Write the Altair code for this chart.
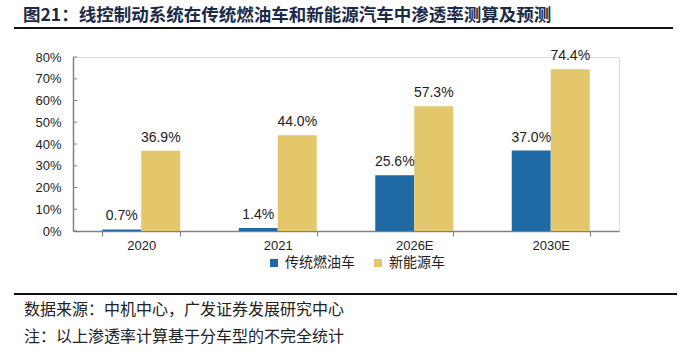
import altair as alt
import pandas as pd

categories = ["2020", "2021", "2026E", "2030E"]
series_names = ["传统燃油车", "新能源车"]
ice_values = [0.7, 1.4, 25.6, 37.0]
nev_values = [36.9, 44.0, 57.3, 74.4]
y_ticks = [0, 10, 20, 30, 40, 50, 60, 70, 80]
colors = ["#1f6aa5", "#e3c76a"]

title_text = "图21：线控制动系统在传统燃油车和新能源汽车中渗透率测算及预测"
source_text = "数据来源：中机中心，广发证券发展研究中心"
note_text = "注：以上渗透率计算基于分车型的不完全统计"

rows = []
for c, a, b in zip(categories, ice_values, nev_values):
    rows.append({"cat": c, "series": series_names[0], "value": a})
    rows.append({"cat": c, "series": series_names[1], "value": b})
df = pd.DataFrame(rows)

W, H = 546, 174

x_axis = alt.Axis(
    title=None,
    labelAngle=0,
    labelFont="Liberation Sans",
    labelFontSize=13,
    labelColor="#222222",
    labelPadding=3,
    tickBand="extent",
    tickSize=5,
    tickColor="#808080",
    domainColor="#808080",
    domainWidth=1.5,
)
y_axis = alt.Axis(
    title=None,
    values=y_ticks,
    labelExpr="datum.value + '%'",
    labelFont="Liberation Sans",
    labelFontSize=13,
    labelColor="#222222",
    labelPadding=12,
    labelOverlap=False,
    labelBound=False,
    labelFlush=False,
    ticks=False,
    grid=False,
    domainColor="#808080",
    domainWidth=1.5,
)
x_scale = alt.Scale(paddingInner=0.4286, paddingOuter=0.2143)
y_scale = alt.Scale(domain=[0, 80], nice=False)
off_scale = alt.Scale(paddingInner=0, paddingOuter=0)

bars = alt.Chart(df).mark_bar(opacity=1).encode(
    x=alt.X("cat:N", sort=categories, scale=x_scale, axis=x_axis),
    xOffset=alt.XOffset("series:N", sort=series_names, scale=off_scale),
    y=alt.Y("value:Q", scale=y_scale, axis=y_axis),
    color=alt.Color(
        "series:N",
        sort=series_names,
        scale=alt.Scale(domain=series_names, range=colors),
        legend=alt.Legend(
            title=None,
            orient="none",
            direction="horizontal",
            legendX=194,
            legendY=199,
            symbolType="square",
            symbolSize=64,
            symbolStrokeWidth=0,
            symbolOpacity=1,
            labelFont="Noto Sans CJK SC",
            labelFontSize=14,
            labelColor="#222222",
            labelOffset=4,
            columnPadding=16,
            padding=0,
        ),
    ),
)

labels = alt.Chart(df).transform_calculate(
    label="format(datum.value, '.1f') + '%'"
).mark_text(
    baseline="bottom", dy=-6, font="Liberation Sans", fontSize=14, color="#222222"
).encode(
    x=alt.X("cat:N", sort=categories, scale=x_scale, axis=x_axis),
    xOffset=alt.XOffset("series:N", sort=series_names, scale=off_scale),
    y=alt.Y("value:Q", scale=y_scale, axis=y_axis),
    text="label:N",
)

tick_df = pd.DataFrame({"value": y_ticks})
yticks = alt.Chart(tick_df).mark_rule(color="#808080", strokeWidth=1).encode(
    y=alt.Y("value:Q", scale=y_scale, axis=y_axis),
    x=alt.value(0),
    x2=alt.value(4),
)

one = pd.DataFrame({"k": [0]})
title = alt.Chart(one).mark_text(
    align="left", baseline="middle", font="Noto Sans CJK SC", fontSize=17.5, fontWeight="bold", color="#1b2a47"
).encode(x=alt.value(-50), y=alt.value(-41), text=alt.value(title_text))

top_line = alt.Chart(one).mark_rule(color="#111111", strokeWidth=2).encode(
    x=alt.value(-59), x2=alt.value(600), y=alt.value(-29)
)
bottom_line = alt.Chart(one).mark_rule(color="#111111", strokeWidth=2).encode(
    x=alt.value(-59), x2=alt.value(604), y=alt.value(237)
)
source = alt.Chart(one).mark_text(
    align="left", baseline="middle", font="Noto Sans CJK SC", fontSize=16, color="#222222"
).encode(x=alt.value(-49), y=alt.value(253), text=alt.value(source_text))
note = alt.Chart(one).mark_text(
    align="left", baseline="middle", font="Noto Sans CJK SC", fontSize=16, color="#222222"
).encode(x=alt.value(-49), y=alt.value(280), text=alt.value(note_text))

chart = alt.layer(bars, labels, yticks, title, top_line, bottom_line, source, note).properties(
    width=W,
    height=H,
    autosize=alt.AutoSizeParams(type="none"),
    padding={"left": 73, "top": 57, "right": 81, "bottom": 126},
).configure_view(stroke=None).configure(background="white")

chart.save("out.html", embed_options={"renderer": "svg", "actions": False})
